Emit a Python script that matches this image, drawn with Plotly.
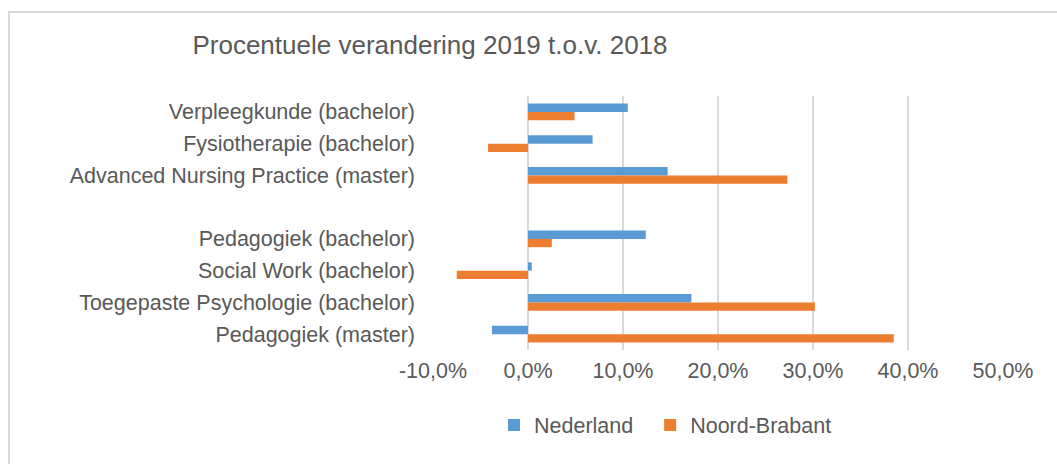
import plotly.graph_objects as go

categories = [
    "Verpleegkunde (bachelor)",
    "Fysiotherapie (bachelor)",
    "Advanced Nursing Practice (master)",
    " ",
    "Pedagogiek (bachelor)",
    "Social Work (bachelor)",
    "Toegepaste Psychologie (bachelor)",
    "Pedagogiek (master)",
]
nederland = [10.5, 6.8, 14.7, None, 12.4, 0.4, 17.2, -3.8]
noord_brabant = [4.9, -4.2, 27.3, None, 2.5, -7.5, 30.2, 38.5]
x_ticks = [-10, 0, 10, 20, 30, 40, 50]
x_tick_labels = ["-10,0%", "0,0%", "10,0%", "20,0%", "30,0%", "40,0%", "50,0%"]

FONT = "Liberation Sans, Arial, sans-serif"
GREY = "#595959"

fig = go.Figure()
fig.add_trace(go.Bar(y=categories, x=nederland, name="Nederland\u00a0\u00a0", orientation="h",
                     marker=dict(color="#5B9BD5", line=dict(width=0))))
fig.add_trace(go.Bar(y=categories, x=noord_brabant, name="Noord-Brabant", orientation="h",
                     marker=dict(color="#ED7D31", line=dict(width=0))))

W, H = 1057, 464
L, R, T, B = 433, 54, 96, 114

fig.update_layout(
    width=W, height=H,
    margin=dict(l=L, r=R, t=T, b=B, pad=0),
    paper_bgcolor="white", plot_bgcolor="white",
    barmode="group", bargap=0.477, bargroupgap=0,
    font=dict(family=FONT, size=21.5, color=GREY),
    title=dict(text="Procentuele verandering 2019 t.o.v. 2018",
               font=dict(family=FONT, size=26, color=GREY),
               x=430 / W, xanchor="center", y=1 - 45 / H, yanchor="middle"),
    showlegend=True,
    legend=dict(orientation="h", x=(494 - L) / (W - L - R), xanchor="left",
                y=-(425 - (H - B)) / (H - T - B), yanchor="middle",
                font=dict(family=FONT, size=21.5, color=GREY),
                bgcolor="rgba(0,0,0,0)", traceorder="normal"),
    xaxis=dict(range=[-10, 50], tickvals=x_ticks, ticktext=x_tick_labels,
               showgrid=True, gridcolor="#d9d9d9", gridwidth=1.5,
               zeroline=True, zerolinecolor="#d9d9d9", zerolinewidth=1.5,
               showline=False, ticks="", ticklen=0, ticklabelstandoff=5,
               tickfont=dict(family=FONT, size=21.5, color=GREY)),
    yaxis=dict(type="category", categoryorder="array", categoryarray=categories,
               autorange="reversed", showgrid=False, zeroline=False, showline=False,
               ticks="", ticklabelstandoff=17,
               tickfont=dict(family=FONT, size=21.5, color=GREY)),
    shapes=[dict(type="rect", xref="paper", yref="paper",
                 x0=(9 - L) / (W - L - R), x1=1.3,
                 y0=-0.8, y1=(H - B - 12) / (H - T - B),
                 line=dict(color="#d9d9d9", width=2), layer="below")],
)

fig.write_html("out.html", config={"displayModeBar": False},
               post_script="document.body.style.margin='0';")
